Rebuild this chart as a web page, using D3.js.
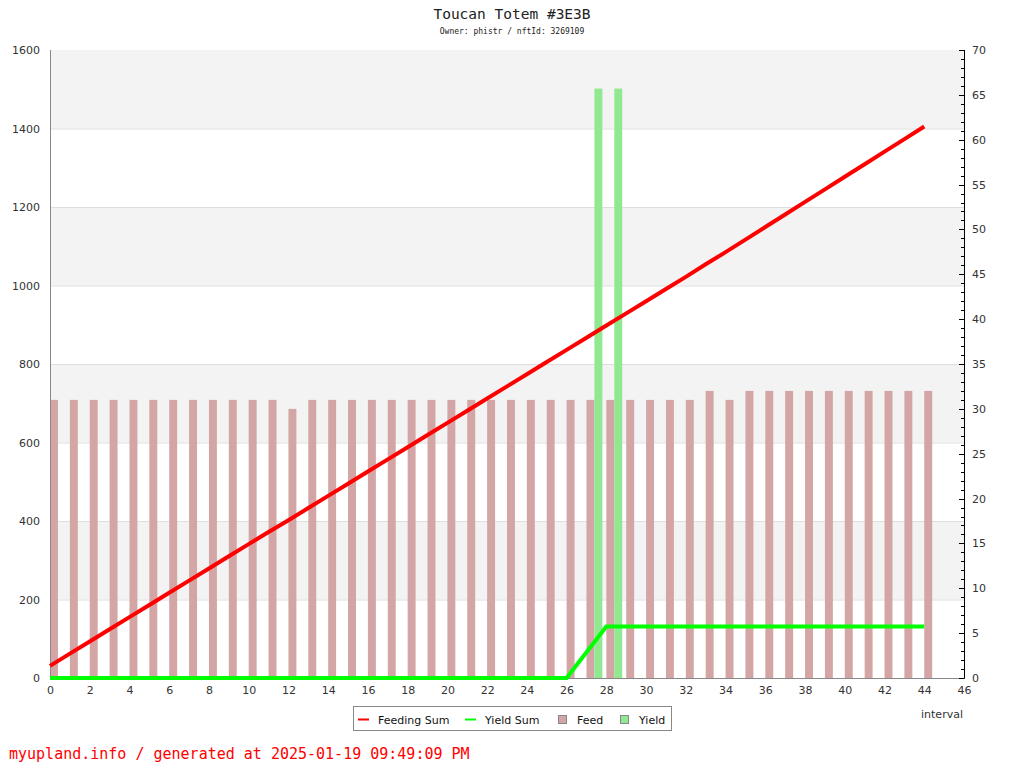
<!DOCTYPE html>
<html><head><meta charset="utf-8">
<script src="https://cdn.jsdelivr.net/npm/d3@7"></script>
<style>body{margin:0;background:#fff}svg{display:block}</style>
</head><body>
<script>
const intervals = d3.range(0, 45);
const feed = [31,31,31,31,31,31,31,31,31,31,31,31,30,31,31,31,31,31,31,31,31,31,31,31,31,31,31,31,31,31,31,31,31,32,31,32,32,32,32,32,32,32,32,32,32];
const yieldVals = [0,0,0,0,0,0,0,0,0,0,0,0,0,0,0,0,0,0,0,0,0,0,0,0,0,0,0,65.7,65.7,0,0,0,0,0,0,0,0,0,0,0,0,0,0,0,0];
const feedingSum = [31,62,93,124,155,186,217,248,279,310,341,372,402,433,464,495,526,557,588,619,650,681,712,743,774,805,836,867,898,929,960,991,1022,1054,1085,1117,1149,1181,1213,1245,1277,1309,1341,1373,1405];
const yieldSum = [0,0,0,0,0,0,0,0,0,0,0,0,0,0,0,0,0,0,0,0,0,0,0,0,0,0,0,65.7,131.4,131.4,131.4,131.4,131.4,131.4,131.4,131.4,131.4,131.4,131.4,131.4,131.4,131.4,131.4,131.4,131.4];
const xTicks = d3.range(0, 47, 2);
const leftTicks = [0,200,400,600,800,1000,1200,1400,1600];
const rightTicks = [0,5,10,15,20,25,30,35,40,45,50,55,60,65,70];
const title = "Toucan Totem #3E3B";
const subtitle = "Owner: phistr / nftId: 3269109";
const footer = "myupland.info / generated at 2025-01-19 09:49:09 PM";

const W = 1024, H = 768;
const L = 50, R = 964, T = 50, B = 678;
const svg = d3.select("body").append("svg").attr("width", W).attr("height", H);

const x = d3.scaleLinear().domain([0, 46]).range([L, R]);
const yL = d3.scaleLinear().domain([0, 1600]).range([B, T]);
const yR = d3.scaleLinear().domain([0, 70]).range([B, T]);

// background bands
const bands = [[200,400],[600,800],[1000,1200],[1400,1600]];
svg.append("g").selectAll("rect").data(bands).join("rect")
  .attr("x", L).attr("width", R - L)
  .attr("y", d => yL(d[1])).attr("height", d => yL(d[0]) - yL(d[1]))
  .attr("fill", "#f3f3f3");
// grid lines
svg.append("g").selectAll("line").data(leftTicks.slice(1, -1)).join("line")
  .attr("x1", L).attr("x2", R).attr("y1", d => yL(d) + 0.5).attr("y2", d => yL(d) + 0.5)
  .attr("stroke", "#dedede").attr("stroke-width", 1);

const u = x(1) - x(0);
const bw = u * 0.4;
// feed bars (right axis)
svg.append("g").selectAll("rect").data(intervals).join("rect")
  .attr("x", i => x(i)).attr("width", bw)
  .attr("y", i => yR(feed[i])).attr("height", i => yR(0) - yR(feed[i]))
  .attr("fill", "#d4a5a5");
// yield bars (right axis)
svg.append("g").selectAll("rect").data(intervals.filter(i => yieldVals[i] > 0)).join("rect")
  .attr("x", i => x(i) + bw).attr("width", bw)
  .attr("y", i => yR(yieldVals[i])).attr("height", i => yR(0) - yR(yieldVals[i]))
  .attr("fill", "#90e990");

// axes lines
svg.append("line").attr("x1", L + 0.5).attr("x2", L + 0.5).attr("y1", T).attr("y2", B)
  .attr("stroke", "#888");
svg.append("line").attr("x1", L).attr("x2", R + 1).attr("y1", B + 0.5).attr("y2", B + 0.5)
  .attr("stroke", "#888");

// x axis
const xAxis = d3.axisBottom(x).tickValues(xTicks).tickSize(0).tickPadding(8);
const gx = svg.append("g").attr("transform", `translate(0,${B})`).call(xAxis);
gx.select(".domain").remove();
gx.selectAll("text").attr("font-family", "DejaVu Sans").attr("font-size", 11).attr("fill", "#333");

// left axis
const yAxisL = d3.axisLeft(yL).tickValues(leftTicks).tickFormat(d3.format("d")).tickSize(0).tickPadding(10);
const gl = svg.append("g").attr("transform", `translate(${L},0)`).call(yAxisL);
gl.select(".domain").remove();
gl.selectAll("text").attr("font-family", "DejaVu Sans").attr("font-size", 11).attr("fill", "#333");

// right axis
const gr = svg.append("g").attr("transform", `translate(${R},0)`);
gr.append("line").attr("x1", 0.5).attr("x2", 0.5).attr("y1", T).attr("y2", B).attr("stroke", "#000");
const minor = d3.range(0, 71);
gr.selectAll("line.minor").data(minor).join("line").attr("class", "minor")
  .attr("x1", d => d % 5 === 0 ? -5 : -3).attr("x2", 0.5)
  .attr("y1", d => Math.round(yR(d)) + 0.5).attr("y2", d => Math.round(yR(d)) + 0.5)
  .attr("stroke", "#000");
const yAxisR = d3.axisRight(yR).tickValues(rightTicks).tickSize(0).tickPadding(8);
const gr2 = svg.append("g").attr("transform", `translate(${R},0)`).call(yAxisR);
gr2.select(".domain").remove();
gr2.selectAll("text").attr("font-family", "DejaVu Sans").attr("font-size", 11).attr("fill", "#333");

// lines (left axis)
const line = arr => d3.line().x(i => x(i)).y(i => yL(arr[i]))(intervals);
svg.append("path").attr("d", line(yieldSum)).attr("fill", "none").attr("stroke", "#00ff00").attr("stroke-width", 4);
svg.append("path").attr("d", line(feedingSum)).attr("fill", "none").attr("stroke", "#ff0000").attr("stroke-width", 4);

// titles
svg.append("text").attr("x", 512).attr("y", 19).attr("text-anchor", "middle")
  .attr("font-family", "DejaVu Sans Mono").attr("font-size", 14.5).attr("fill", "#222").text(title);
svg.append("text").attr("x", 512).attr("y", 34).attr("text-anchor", "middle")
  .attr("font-family", "DejaVu Sans Mono").attr("font-size", 8).attr("fill", "#222").text(subtitle);

// x label
svg.append("text").attr("x", 942).attr("y", 718).attr("text-anchor", "middle")
  .attr("font-family", "DejaVu Sans").attr("font-size", 11).attr("fill", "#333").text("interval");

// legend
const lg = svg.append("g");
lg.append("rect").attr("x", 353.5).attr("y", 706.5).attr("width", 318).attr("height", 24)
  .attr("fill", "#fff").attr("stroke", "#888");
const legendItems = [
  {name: "Feeding Sum", type: "line", color: "#ff0000", x: 358},
  {name: "Yield Sum", type: "line", color: "#00ff00", x: 465},
  {name: "Feed", type: "rect", color: "#d4a5a5", x: 558},
  {name: "Yield", type: "rect", color: "#90e990", x: 620}
];
legendItems.forEach(it => {
  if (it.type === "line") {
    lg.append("line").attr("x1", it.x).attr("x2", it.x + 11).attr("y1", 719.5).attr("y2", 719.5)
      .attr("stroke", it.color).attr("stroke-width", 2);
  } else {
    lg.append("rect").attr("x", it.x + 0.5).attr("y", 715.5).attr("width", 8).attr("height", 8)
      .attr("fill", it.color).attr("stroke", "#888");
  }
  lg.append("text").attr("x", it.x + (it.type === "line" ? 20 : 19)).attr("y", 723.5)
    .attr("font-family", "DejaVu Sans").attr("font-size", 11).attr("fill", "#111").text(it.name);
});

// footer
svg.append("text").attr("x", 9).attr("y", 759)
  .attr("font-family", "DejaVu Sans Mono").attr("font-size", 15).attr("fill", "#ff0000").text(footer);
</script>
</body></html>
